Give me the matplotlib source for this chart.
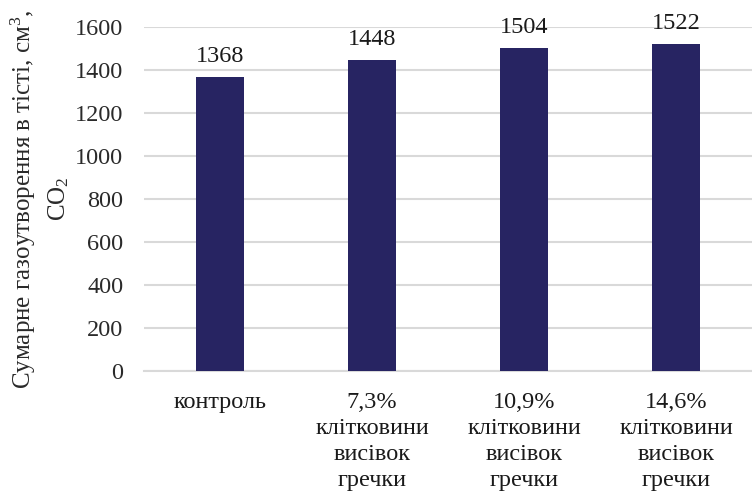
import matplotlib
matplotlib.use("Agg")
import matplotlib.pyplot as plt

categories = ["контроль",
              "7,3%\nклітковини\nвисівок\nгречки",
              "10,9%\nклітковини\nвисівок\nгречки",
              "14,6%\nклітковини\nвисівок\nгречки"]
values = [1368, 1448, 1504, 1522]
yticks = [0, 200, 400, 600, 800, 1000, 1200, 1400, 1600]

plt.rcParams['font.family'] = ['Liberation Serif', 'DejaVu Serif']
plt.rcParams['mathtext.fontset'] = 'custom'
plt.rcParams['mathtext.rm'] = 'Liberation Serif'
plt.rcParams['mathtext.it'] = 'Liberation Serif'

fs = 17.5

fig = plt.figure(figsize=(7.52, 5.0), dpi=100)
ax = fig.add_axes([0.1915, 0.258, 0.8085, 0.688])

x = list(range(len(categories)))
ax.bar(x, values, width=0.32, color="#272462", zorder=3)
for xi, v in zip(x, values):
    ax.text(xi, v + 45, str(v), ha="center", va="bottom", fontsize=fs, color="#1a1a1a")

ax.set_xlim(-0.5, len(categories) - 0.5)
ax.set_ylim(0, 1600)
ax.set_yticks(yticks)
ax.set_yticklabels([str(t) for t in yticks], fontsize=fs, color="#2a2a2a")
ax.set_xticks(x)
ax.set_xticklabels(categories, fontsize=fs, color="#1a1a1a", linespacing=1.32, va="top")
ax.tick_params(axis="both", length=0)
ax.tick_params(axis="x", pad=15)
ax.tick_params(axis="y", pad=15)
ax.grid(axis="y", color="#d9d9d9", linewidth=1.5, zorder=0)
for s in ["top", "right", "left"]:
    ax.spines[s].set_visible(False)
ax.spines["bottom"].set_color("#d9d9d9")
ax.spines["bottom"].set_linewidth(1.5)

ax.set_ylabel("Сумарне газоутворення в тісті, см$^\\mathregular{3}$,\nCO$_\\mathregular{2}$",
              fontsize=18, color="#2a2a2a", linespacing=1.45)
ax.yaxis.set_label_coords(-0.12, 0.5)

fig.savefig("out.png", dpi=100)
